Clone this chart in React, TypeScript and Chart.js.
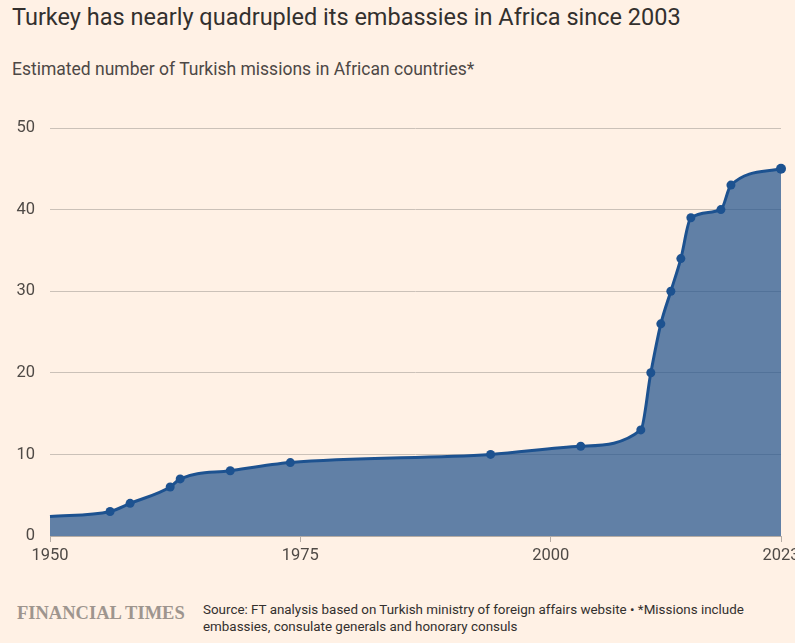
import React, { useEffect, useRef } from "react";
import { Chart, registerables } from "chart.js";

Chart.register(...registerables);

const years = [1950, 1956, 1958, 1962, 1963, 1968, 1974, 1994, 2003, 2009, 2010, 2011, 2012, 2013, 2014, 2017, 2018, 2023];
const missions = [2.4, 3, 4, 6, 7, 8, 9, 10, 11, 13, 20, 26, 30, 34, 39, 40, 43, 45];
const pointSizes = [0, 4.5, 4.5, 4.5, 4.5, 4.5, 4.5, 4.5, 4.5, 4.5, 4.5, 4.5, 4.5, 4.5, 4.5, 4.5, 4.5, 5];
const xTicks = [1950, 1975, 2000, 2023];
const yTicks = [0, 10, 20, 30, 40, 50];

const title = "Turkey has nearly quadrupled its embassies in Africa since 2003";
const subtitle = "Estimated number of Turkish missions in African countries*";
const sourceLine1 = "Source: FT analysis based on Turkish ministry of foreign affairs website \u2022 *Missions include";
const sourceLine2 = "embassies, consulate generals and honorary consuls";

export default function App() {
  const ref = useRef<HTMLCanvasElement>(null);

  useEffect(() => {
    if (!ref.current) return;
    const chart = new Chart(ref.current, {
      type: "line",
      data: {
        datasets: [
          {
            data: years.map((y, i) => ({ x: y, y: missions[i] })),
            borderColor: "#1d5290",
            backgroundColor: "rgba(30,80,140,0.7)",
            borderWidth: 3,
            fill: "origin",
            cubicInterpolationMode: "monotone",
            pointRadius: pointSizes,
            pointHoverRadius: pointSizes,
            pointBackgroundColor: "#1d5290",
            pointBorderWidth: 0,
            clip: 12,
          },
        ],
      },
      options: {
        animation: false,
        responsive: false,
        maintainAspectRatio: false,
        layout: { padding: { left: 0, right: 14, top: 18, bottom: 0 } },
        plugins: { legend: { display: false }, tooltip: { enabled: false } },
        scales: {
          x: {
            type: "linear",
            min: 1950,
            max: 2023,
            afterBuildTicks: (s: any) => {
              s.ticks = xTicks.map((v) => ({ value: v }));
            },
            afterFit: (s: any) => {
              s.height = 39;
              s.paddingLeft = 0;
              s.paddingRight = 0;
            },
            border: { display: true, color: "#b5aca4", width: 1 },
            grid: {
              drawOnChartArea: false,
              drawTicks: true,
              tickLength: 6,
              color: "#b5aca4",
            },
            ticks: {
              padding: 4,
              maxRotation: 0,
              autoSkip: false,
              color: "#4f4a46",
              font: { family: "Roboto", size: 16.5 },
              callback: (v: any) => String(v),
            },
          },
          y: {
            min: 0,
            max: 50,
            afterBuildTicks: (s: any) => {
              s.ticks = yTicks.map((v) => ({ value: v }));
            },
            afterFit: (s: any) => {
              s.width = 50;
              s.paddingTop = 0;
              s.paddingBottom = 0;
            },
            border: { display: false },
            grid: {
              drawTicks: false,
              color: (ctx: any) => (ctx.tick && ctx.tick.value === 0 ? "rgba(0,0,0,0)" : "#cbc1b8"),
              lineWidth: 1,
            },
            ticks: {
              padding: 15,
              color: "#4f4a46",
              font: { family: "Roboto", size: 16.5 },
            },
          },
        },
      },
    });
    return () => chart.destroy();
  }, []);

  return (
    <div
      style={{
        position: "fixed",
        left: 0,
        top: 0,
        width: 795,
        height: 643,
        background: "#fff1e5",
        overflow: "hidden",
        fontFamily: "Roboto, sans-serif",
      }}
    >
      <div style={{ position: "absolute", left: 12, top: 3, fontSize: 23.5, color: "#33302e", whiteSpace: "nowrap" }}>
        {title}
      </div>
      <div style={{ position: "absolute", left: 12, top: 59, fontSize: 17.5, color: "#4d4845", whiteSpace: "nowrap" }}>
        {subtitle}
      </div>
      <canvas ref={ref} width={795} height={465} style={{ position: "absolute", left: 0, top: 110, width: 795, height: 465 }} />
      <div
        style={{
          position: "absolute",
          left: 17,
          top: 603,
          fontFamily: "'Liberation Serif', serif",
          fontWeight: "bold",
          fontSize: 18.5,
          color: "#9e958e",
          whiteSpace: "nowrap",
        }}
      >
        FINANCIAL TIMES
      </div>
      <div
        style={{
          position: "absolute",
          left: 203,
          top: 601,
          fontSize: 13.4,
          lineHeight: "17px",
          color: "#33302e",
          whiteSpace: "nowrap",
        }}
      >
        <div>{sourceLine1}</div>
        <div>{sourceLine2}</div>
      </div>
    </div>
  );
}
